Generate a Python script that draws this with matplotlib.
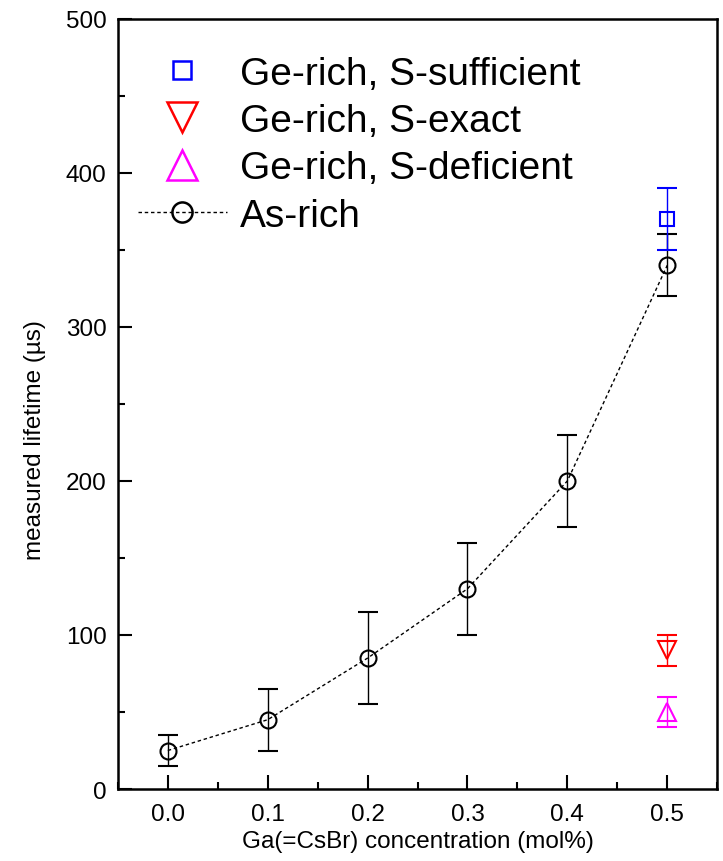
import numpy as np
import matplotlib.pyplot as plt
from matplotlib.lines import Line2D
from matplotlib.ticker import MultipleLocator

plt.rcParams['font.family'] = ['Liberation Sans', 'DejaVu Sans']

# As-rich series
conc = [0.0, 0.1, 0.2, 0.3, 0.4, 0.5]
life_as = [25, 45, 85, 130, 200, 340]
err_as = [10, 20, 30, 30, 30, 20]

# Ge-rich samples, all at 0.5 mol%
ge_x = [0.5]
life_suff = [370]
err_suff = [20]
life_exact = [90]
err_exact = [10]
life_def = [50]
err_def = [10]

fig = plt.figure(figsize=(7.23, 8.62), dpi=100)
ax = fig.add_axes([0.163, 0.0835, 0.829, 0.8935])

ax.errorbar(conc, life_as, yerr=err_as, fmt='o', mfc='none', mec='k', ms=11.5,
            mew=1.5, ecolor='k', elinewidth=1, capsize=7, capthick=1, zorder=3)
ax.plot(conc, life_as, ls=(0, (2.5, 2)), color='k', lw=1, zorder=2)
ax.errorbar(ge_x, life_suff, yerr=err_suff, fmt='s', mfc='none', mec='#0000ff', ms=9.5,
            mew=1.5, ecolor='#0000ff', elinewidth=1, capsize=7, capthick=1, zorder=4)
ax.errorbar(ge_x, life_exact, yerr=err_exact, fmt='v', mfc='none', mec='#ff0000', ms=13,
            mew=1.5, ecolor='#ff0000', elinewidth=1, capsize=7, capthick=1, zorder=4)
ax.errorbar(ge_x, life_def, yerr=err_def, fmt='^', mfc='none', mec='#ff00ff', ms=13,
            mew=1.5, ecolor='#ff00ff', elinewidth=1, capsize=7, capthick=1, zorder=4)

ax.set_xlim(-0.05, 0.55)
ax.set_ylim(0, 500)
ax.xaxis.set_major_locator(MultipleLocator(0.1))
ax.xaxis.set_minor_locator(MultipleLocator(0.05))
ax.yaxis.set_major_locator(MultipleLocator(100))
ax.yaxis.set_minor_locator(MultipleLocator(50))
ax.xaxis.set_major_formatter(lambda v, p: f'{v:.1f}')
ax.tick_params(which='both', direction='in', width=1.5, top=False, right=False)
ax.tick_params(which='major', length=10, labelsize=17.5)
ax.tick_params(axis='y', which='major', pad=8)
ax.tick_params(axis='x', which='major', pad=10)
ax.tick_params(which='minor', length=5)
for s in ax.spines.values():
    s.set_linewidth(1.8)

ax.set_xlabel('Ga(=CsBr) concentration (mol%)', fontsize=17.5, labelpad=4)
ax.set_ylabel('measured lifetime (\u00b5s)', fontsize=17.5)
ax.yaxis.set_label_coords(-0.12, 0.455)

handles = [
    Line2D([], [], ls='none', marker='s', mfc='none', mec='#0000ff', ms=13, mew=1.8),
    Line2D([], [], ls='none', marker='v', mfc='none', mec='#ff0000', ms=21, mew=1.8),
    Line2D([], [], ls='none', marker='^', mfc='none', mec='#ff00ff', ms=21, mew=1.8),
    Line2D([], [], ls=(0, (2.5, 2)), lw=1, color='k', marker='o', mfc='none', mec='k',
           ms=14.5, mew=1.8),
]
labels = ['Ge-rich, S-sufficient', 'Ge-rich, S-exact', 'Ge-rich, S-deficient', 'As-rich']
ax.legend(handles, labels, loc='upper left', bbox_to_anchor=(0.033, 0.952), frameon=False,
          fontsize=28, handlelength=2.3, handletextpad=0.33, labelspacing=0.29,
          borderpad=0, borderaxespad=0)

fig.savefig('out.png', dpi=100)
